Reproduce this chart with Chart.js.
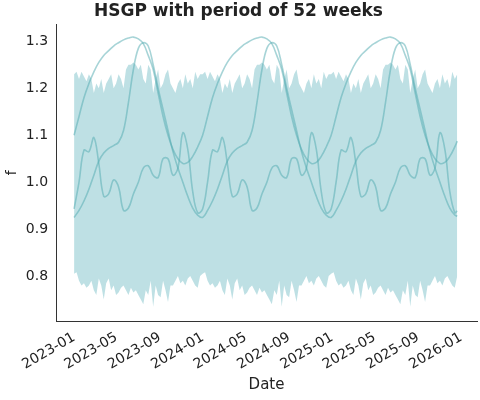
<!DOCTYPE html>
<html><head><meta charset="utf-8">
<script src="https://cdn.jsdelivr.net/npm/chart.js@4"></script>
<style>html,body{margin:0;padding:0;background:#fff}#c{width:480px;height:400px}</style>
</head><body><div id="c"><canvas id="cv" width="480" height="400"></canvas></div>
<script>
// one 52-week period, read biweekly (weeks 0,2,...,50); model is periodic
const lineA = [1.10,1.14,1.18,1.21,1.235,1.255,1.27,1.28,1.29,1.297,1.303,1.307,1.309,1.305,1.295,1.27,1.24,1.19,1.14,1.10,1.07,1.05,1.04,1.042,1.055,1.075];
const lineB = [0.925,0.94,0.96,0.985,1.015,1.045,1.062,1.072,1.078,1.085,1.11,1.17,1.24,1.285,1.297,1.29,1.25,1.20,1.155,1.11,1.065,1.03,1.00,0.97,0.945,0.93];
const lineC = [0.943,1.00,1.068,1.065,1.095,1.04,0.97,0.975,1.005,0.99,0.94,0.945,0.975,1.00,1.03,1.035,1.015,1.01,1.05,1.05,1.015,1.03,1.105,1.07,0.98,0.935];
// weekly band (52 weeks)
const bandUpper = [1.23,1.235,1.22,1.235,1.225,1.215,1.23,1.22,1.19,1.21,1.20,1.22,1.19,1.21,1.22,1.23,1.20,1.21,1.23,1.22,1.20,1.24,1.25,1.25,1.255,1.25,1.24,1.25,1.22,1.21,1.25,1.24,1.19,1.22,1.24,1.20,1.21,1.23,1.24,1.21,1.20,1.19,1.21,1.22,1.20,1.23,1.21,1.22,1.20,1.235,1.22,1.23];
const bandLower = [0.805,0.808,0.79,0.78,0.785,0.775,0.78,0.79,0.77,0.76,0.795,0.78,0.75,0.785,0.795,0.77,0.78,0.76,0.765,0.775,0.78,0.77,0.76,0.775,0.765,0.77,0.76,0.75,0.74,0.77,0.76,0.79,0.735,0.78,0.76,0.755,0.79,0.77,0.745,0.78,0.78,0.79,0.80,0.785,0.79,0.78,0.795,0.80,0.79,0.78,0.775,0.80];
const nWeeks = 156;
const tickLabels = ['2023-01','2023-05','2023-09','2024-01','2024-05','2024-09','2025-01','2025-05','2025-09','2026-01'];
const yTicks = [0.8,0.9,1.0,1.1,1.2,1.3];

const t0 = Date.UTC(2023,0,1), DAY = 86400000;
const tickDays = tickLabels.map(s=>{const [y,m]=s.split('-').map(Number);return (Date.UTC(y,m-1,1)-t0)/DAY;});
function weekly(arr){const o=[];for(let w=0;w<nWeeks;w++)o.push({x:7*w,y:arr[w%52]});return o;}
function biweekly(arr){const o=[];for(let w=0;w<nWeeks;w+=2)o.push({x:7*w,y:arr[(w%52)/2]});o.push({x:7*(nWeeks-1),y:arr[0]*0.5+arr[25]*0.5});return o;}
const lc='rgba(80,170,175,0.5)';
const mkLine=d=>({data:biweekly(d),borderColor:lc,borderWidth:1.6,pointRadius:0,tension:0.4,fill:false});
new Chart(document.getElementById('cv'),{
 type:'line',
 data:{datasets:[
  mkLine(lineA),mkLine(lineB),mkLine(lineC),
  {data:weekly(bandLower),borderWidth:0,pointRadius:0,fill:false,borderColor:'rgba(0,0,0,0)'},
  {data:weekly(bandUpper),borderWidth:0,pointRadius:0,fill:'-1',borderColor:'rgba(0,0,0,0)',backgroundColor:'rgba(100,180,190,0.42)'}
 ]},
 options:{responsive:false,animation:false,
  layout:{padding:{left:0,right:3,top:0,bottom:2}},
  plugins:{legend:{display:false},tooltip:{enabled:false},
   title:{display:true,text:'HSGP with period of 52 weeks',color:'#222',font:{family:'DejaVu Sans',size:17,weight:'bold'},padding:{top:1,bottom:3}}},
  scales:{
   x:{type:'linear',min:-51,max:1141,grid:{display:false,drawTicks:true,tickLength:5,tickColor:'#333'},border:{color:'#333'},
      afterBuildTicks:a=>{a.ticks=tickDays.map(v=>({value:v}));},
      ticks:{color:'#222',font:{family:'DejaVu Sans',size:14},maxRotation:30,minRotation:30,autoSkip:false,callback:(v)=>tickLabels[tickDays.indexOf(v)]},
      title:{display:true,text:'Date',color:'#222',font:{family:'DejaVu Sans',size:15},padding:{top:0}}},
   y:{min:0.704,max:1.336,grid:{display:false,tickLength:5,tickColor:'#333'},border:{color:'#333'},
      afterBuildTicks:a=>{a.ticks=yTicks.map(v=>({value:v}));},
      ticks:{color:'#222',font:{family:'DejaVu Sans',size:14},callback:v=>v.toFixed(1)},
      title:{display:true,text:'f',color:'#222',font:{family:'DejaVu Sans',size:14},padding:{bottom:2}}}
  }}
});
</script></body></html>
